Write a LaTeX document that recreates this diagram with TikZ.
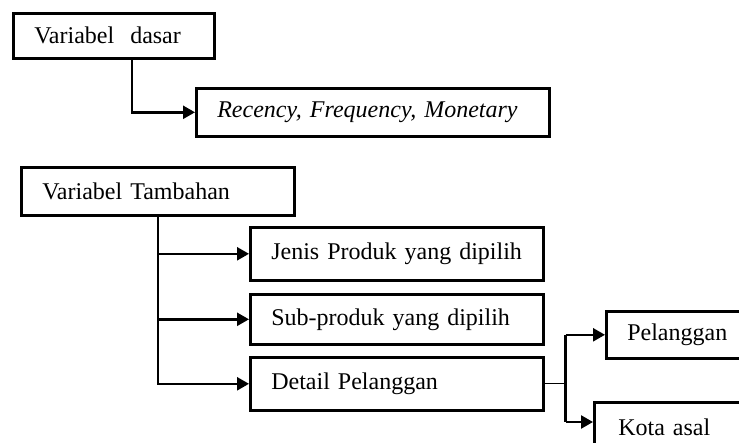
\documentclass[tikz,border=0pt]{standalone}
\usepackage{fontspec}
\setmainfont{Liberation Serif}
\usetikzlibrary{arrows.meta}
\begin{document}
\begin{tikzpicture}[x=1pt,y=-1pt,
  box/.style={draw=black, line width=2.6pt, anchor=north west, inner xsep=21pt, inner ysep=0pt,
    align=left, font=\fontsize{24}{28}\selectfont},
  arr/.style={line width=2.4pt, -{Triangle[length=12pt,width=13pt]}},
  thin/.style={line width=1pt}]
\useasboundingbox (0,0) rectangle (739,442);
\clip (0,0) rectangle (739,442);
\fill[white] (0,0) rectangle (739,442);
% boxes
\node[box, text width=159pt, minimum height=45pt] (b1) at (12,12) {Variabel\ \ dasar};
\node[box, text width=311pt, minimum height=48pt] (b2) at (195,87) {\itshape Recency, Frequency, Monetary};
\node[box, text width=231pt, minimum height=48pt] (b3) at (20,166) {Variabel Tambahan};
\node[box, text width=251pt, minimum height=53pt] (b4) at (249,226) {Jenis Produk yang dipilih};
\node[box, text width=251pt, minimum height=50pt] (b5) at (249,293) {Sub-produk yang dipilih};
\node[box, text width=251pt, minimum height=53pt] (b6) at (249,356) {Detail Pelanggan};
\node[box, text width=120pt, minimum height=47pt] (b7) at (605,310) {Pelanggan};
\node[box, inner xsep=24pt, text width=120pt, minimum height=50pt] (b8) at (593,401) {Kota asal};
% connectors
\coordinate (c1) at ([xshift=120pt]b1.south west);
\draw[arr] (c1) |- (b2.west);
\coordinate (c3) at ([xshift=138pt]b3.south west);
\draw[arr] (c3) |- (b6.west);
\draw[arr] (c3 |- b4.west) -- (b4.west);
\draw[arr] (c3 |- b5.west) -- (b5.west);
\coordinate (j) at ([xshift=21pt]b6.east);
\draw[thin] (b6.east) -- (j);
\coordinate (k) at ([yshift=-21pt]b8.north west);
\draw[arr] (j |- b7.west) -- (b7.west);
\draw[arr] (j |- k) -- (k);
\draw[line width=2.4pt] (j |- b7.west) -- (j |- k);
\end{tikzpicture}
\end{document}
